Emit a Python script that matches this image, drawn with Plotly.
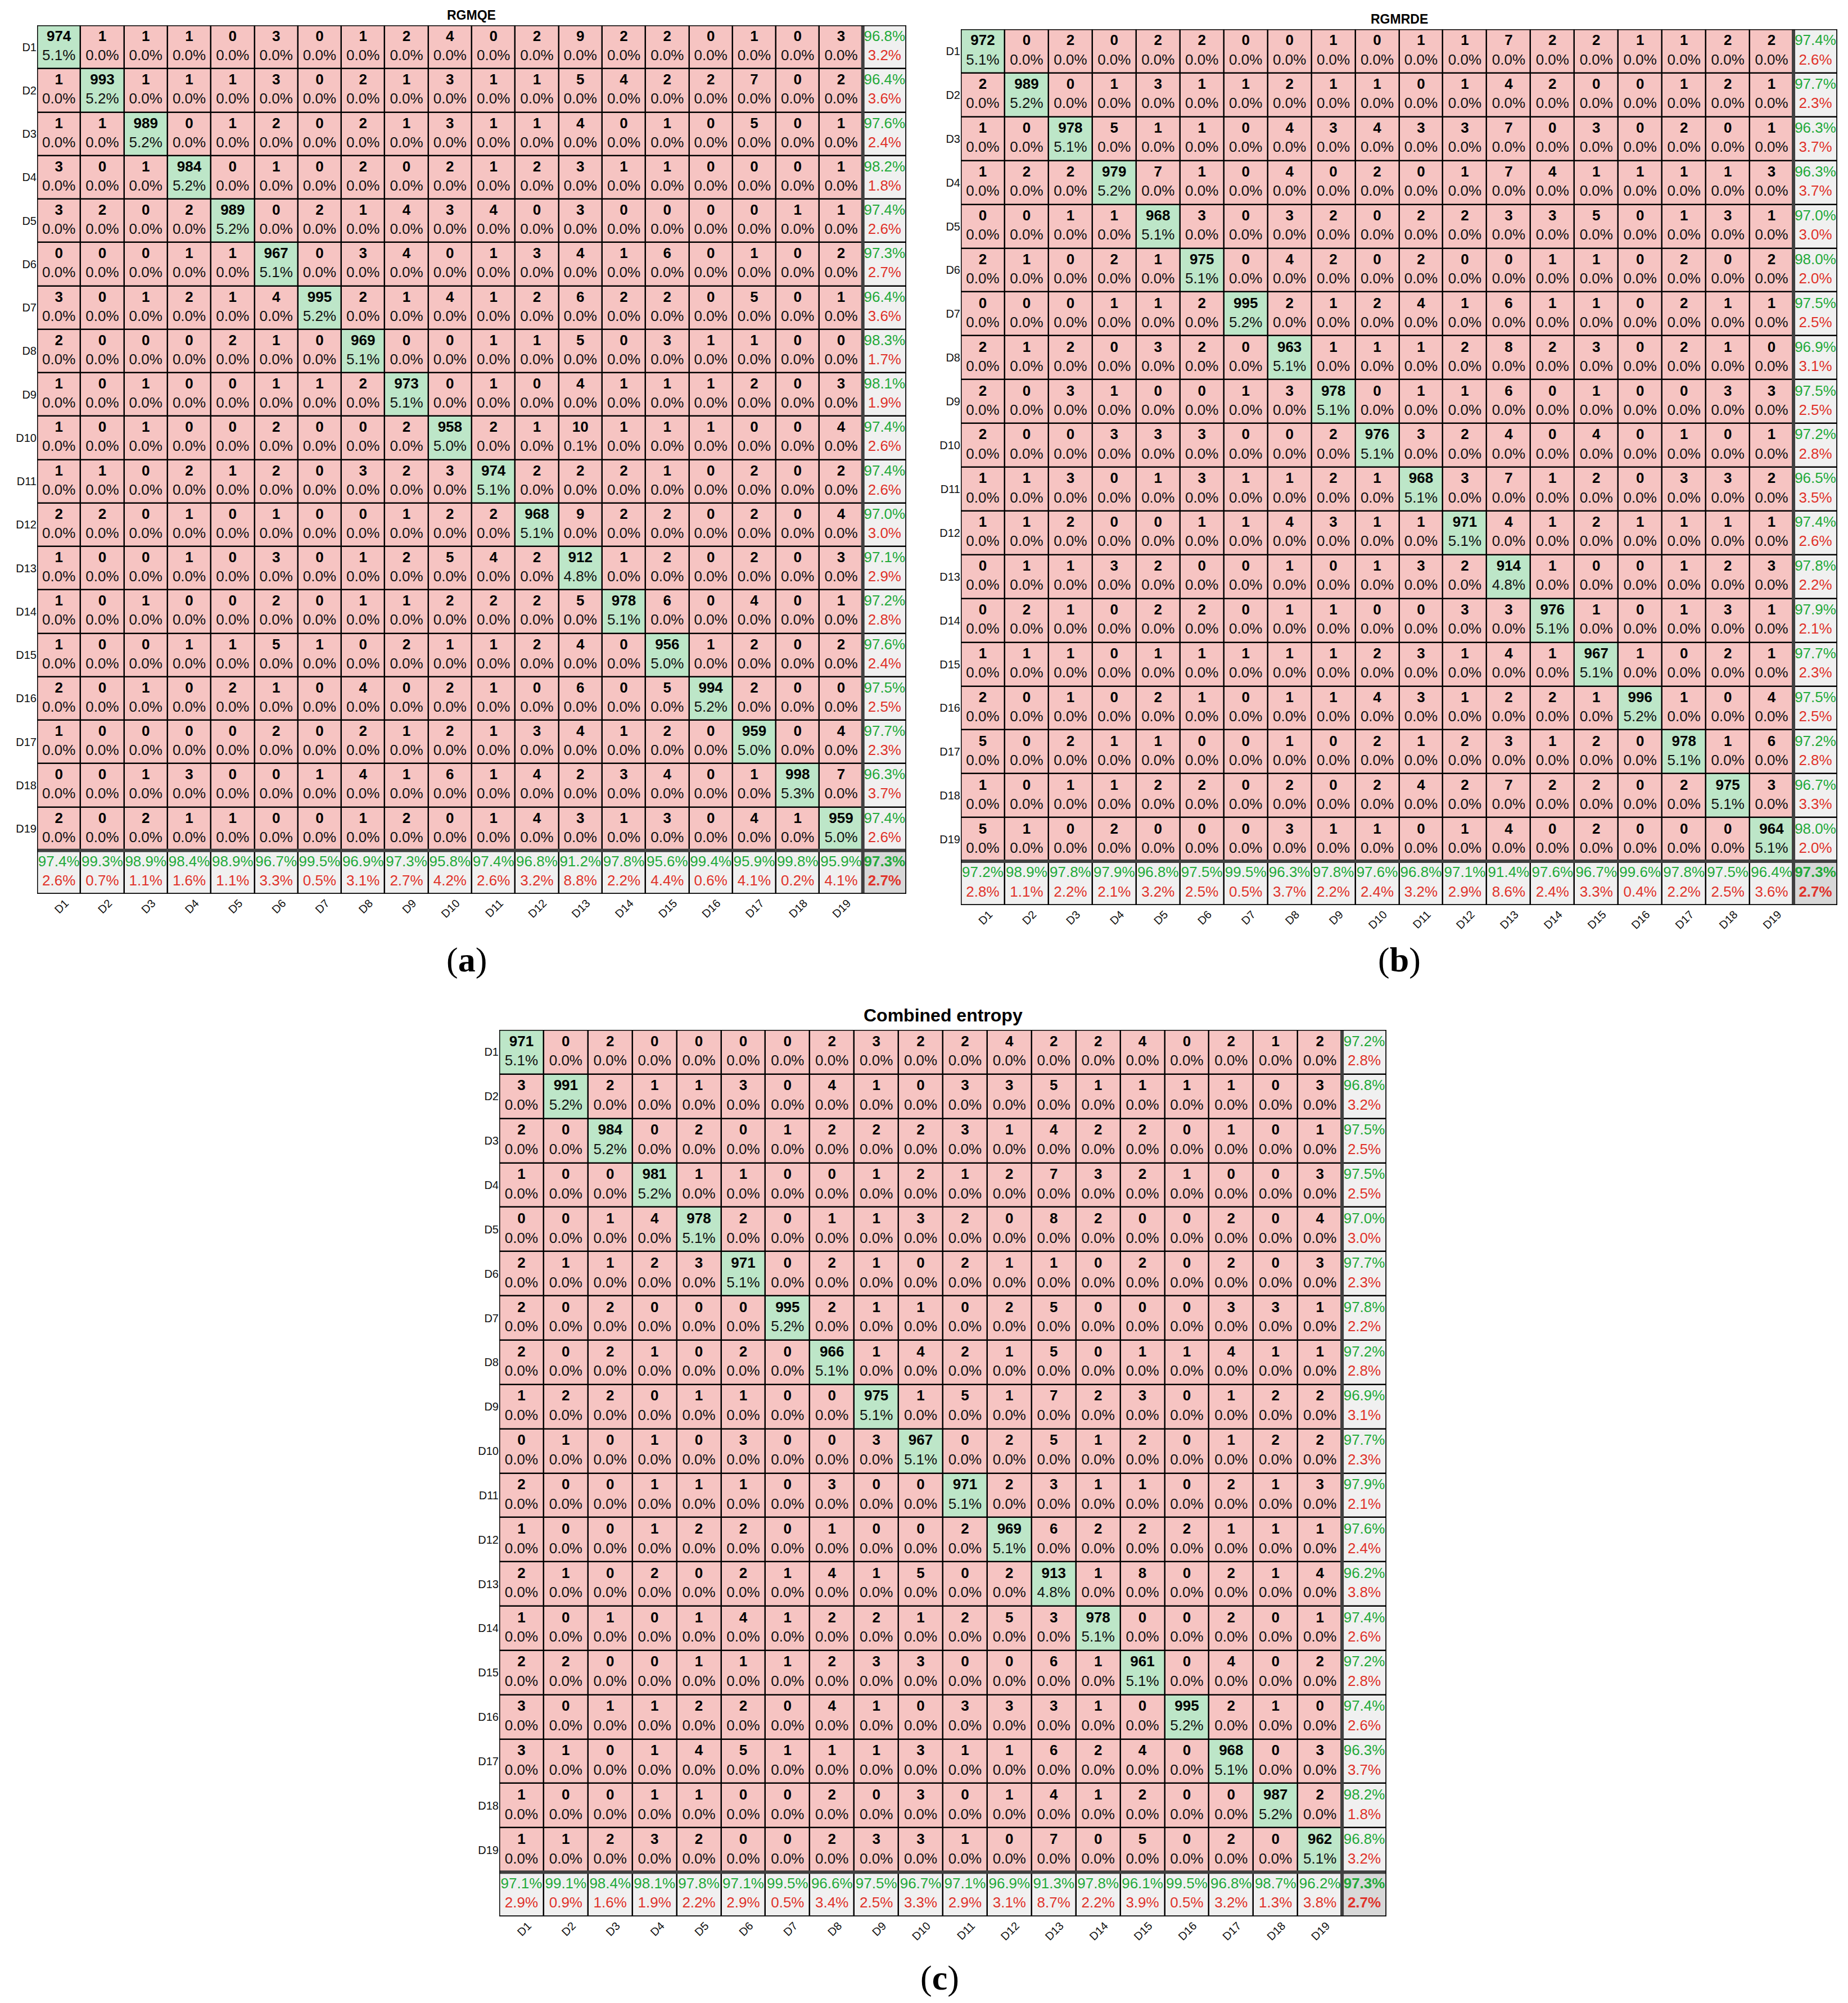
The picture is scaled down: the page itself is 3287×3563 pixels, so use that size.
import plotly.graph_objects as go

CLASSES = [f"D{i}" for i in range(1, 20)]

TITLE_A = "RGMQE"
TITLE_B = "RGMRDE"
TITLE_C = "Combined entropy"

# rows = output class, columns = target class (as printed in the figure)
RGMQE_COUNTS = [
    [974, 1, 1, 1, 0, 3, 0, 1, 2, 4, 0, 2, 9, 2, 2, 0, 1, 0, 3],
    [1, 993, 1, 1, 1, 3, 0, 2, 1, 3, 1, 1, 5, 4, 2, 2, 7, 0, 2],
    [1, 1, 989, 0, 1, 2, 0, 2, 1, 3, 1, 1, 4, 0, 1, 0, 5, 0, 1],
    [3, 0, 1, 984, 0, 1, 0, 2, 0, 2, 1, 2, 3, 1, 1, 0, 0, 0, 1],
    [3, 2, 0, 2, 989, 0, 2, 1, 4, 3, 4, 0, 3, 0, 0, 0, 0, 1, 1],
    [0, 0, 0, 1, 1, 967, 0, 3, 4, 0, 1, 3, 4, 1, 6, 0, 1, 0, 2],
    [3, 0, 1, 2, 1, 4, 995, 2, 1, 4, 1, 2, 6, 2, 2, 0, 5, 0, 1],
    [2, 0, 0, 0, 2, 1, 0, 969, 0, 0, 1, 1, 5, 0, 3, 1, 1, 0, 0],
    [1, 0, 1, 0, 0, 1, 1, 2, 973, 0, 1, 0, 4, 1, 1, 1, 2, 0, 3],
    [1, 0, 1, 0, 0, 2, 0, 0, 2, 958, 2, 1, 10, 1, 1, 1, 0, 0, 4],
    [1, 1, 0, 2, 1, 2, 0, 3, 2, 3, 974, 2, 2, 2, 1, 0, 2, 0, 2],
    [2, 2, 0, 1, 0, 1, 0, 0, 1, 2, 2, 968, 9, 2, 2, 0, 2, 0, 4],
    [1, 0, 0, 1, 0, 3, 0, 1, 2, 5, 4, 2, 912, 1, 2, 0, 2, 0, 3],
    [1, 0, 1, 0, 0, 2, 0, 1, 1, 2, 2, 2, 5, 978, 6, 0, 4, 0, 1],
    [1, 0, 0, 1, 1, 5, 1, 0, 2, 1, 1, 2, 4, 0, 956, 1, 2, 0, 2],
    [2, 0, 1, 0, 2, 1, 0, 4, 0, 2, 1, 0, 6, 0, 5, 994, 2, 0, 0],
    [1, 0, 0, 0, 0, 2, 0, 2, 1, 2, 1, 3, 4, 1, 2, 0, 959, 0, 4],
    [0, 0, 1, 3, 0, 0, 1, 4, 1, 6, 1, 4, 2, 3, 4, 0, 1, 998, 7],
    [2, 0, 2, 1, 1, 0, 0, 1, 2, 0, 1, 4, 3, 1, 3, 0, 4, 1, 959],
]

RGMRDE_COUNTS = [
    [972, 0, 2, 0, 2, 2, 0, 0, 1, 0, 1, 1, 7, 2, 2, 1, 1, 2, 2],
    [2, 989, 0, 1, 3, 1, 1, 2, 1, 1, 0, 1, 4, 2, 0, 0, 1, 2, 1],
    [1, 0, 978, 5, 1, 1, 0, 4, 3, 4, 3, 3, 7, 0, 3, 0, 2, 0, 1],
    [1, 2, 2, 979, 7, 1, 0, 4, 0, 2, 0, 1, 7, 4, 1, 1, 1, 1, 3],
    [0, 0, 1, 1, 968, 3, 0, 3, 2, 0, 2, 2, 3, 3, 5, 0, 1, 3, 1],
    [2, 1, 0, 2, 1, 975, 0, 4, 2, 0, 2, 0, 0, 1, 1, 0, 2, 0, 2],
    [0, 0, 0, 1, 1, 2, 995, 2, 1, 2, 4, 1, 6, 1, 1, 0, 2, 1, 1],
    [2, 1, 2, 0, 3, 2, 0, 963, 1, 1, 1, 2, 8, 2, 3, 0, 2, 1, 0],
    [2, 0, 3, 1, 0, 0, 1, 3, 978, 0, 1, 1, 6, 0, 1, 0, 0, 3, 3],
    [2, 0, 0, 3, 3, 3, 0, 0, 2, 976, 3, 2, 4, 0, 4, 0, 1, 0, 1],
    [1, 1, 3, 0, 1, 3, 1, 1, 2, 1, 968, 3, 7, 1, 2, 0, 3, 3, 2],
    [1, 1, 2, 0, 0, 1, 1, 4, 3, 1, 1, 971, 4, 1, 2, 1, 1, 1, 1],
    [0, 1, 1, 3, 2, 0, 0, 1, 0, 1, 3, 2, 914, 1, 0, 0, 1, 2, 3],
    [0, 2, 1, 0, 2, 2, 0, 1, 1, 0, 0, 3, 3, 976, 1, 0, 1, 3, 1],
    [1, 1, 1, 0, 1, 1, 1, 1, 1, 2, 3, 1, 4, 1, 967, 1, 0, 2, 1],
    [2, 0, 1, 0, 2, 1, 0, 1, 1, 4, 3, 1, 2, 2, 1, 996, 1, 0, 4],
    [5, 0, 2, 1, 1, 0, 0, 1, 0, 2, 1, 2, 3, 1, 2, 0, 978, 1, 6],
    [1, 0, 1, 1, 2, 2, 0, 2, 0, 2, 4, 2, 7, 2, 2, 0, 2, 975, 3],
    [5, 1, 0, 2, 0, 0, 0, 3, 1, 1, 0, 1, 4, 0, 2, 0, 0, 0, 964],
]

COMBINED_COUNTS = [
    [971, 0, 2, 0, 0, 0, 0, 2, 3, 2, 2, 4, 2, 2, 4, 0, 2, 1, 2],
    [3, 991, 2, 1, 1, 3, 0, 4, 1, 0, 3, 3, 5, 1, 1, 1, 1, 0, 3],
    [2, 0, 984, 0, 2, 0, 1, 2, 2, 2, 3, 1, 4, 2, 2, 0, 1, 0, 1],
    [1, 0, 0, 981, 1, 1, 0, 0, 1, 2, 1, 2, 7, 3, 2, 1, 0, 0, 3],
    [0, 0, 1, 4, 978, 2, 0, 1, 1, 3, 2, 0, 8, 2, 0, 0, 2, 0, 4],
    [2, 1, 1, 2, 3, 971, 0, 2, 1, 0, 2, 1, 1, 0, 2, 0, 2, 0, 3],
    [2, 0, 2, 0, 0, 0, 995, 2, 1, 1, 0, 2, 5, 0, 0, 0, 3, 3, 1],
    [2, 0, 2, 1, 0, 2, 0, 966, 1, 4, 2, 1, 5, 0, 1, 1, 4, 1, 1],
    [1, 2, 2, 0, 1, 1, 0, 0, 975, 1, 5, 1, 7, 2, 3, 0, 1, 2, 2],
    [0, 1, 0, 1, 0, 3, 0, 0, 3, 967, 0, 2, 5, 1, 2, 0, 1, 2, 2],
    [2, 0, 0, 1, 1, 1, 0, 3, 0, 0, 971, 2, 3, 1, 1, 0, 2, 1, 3],
    [1, 0, 0, 1, 2, 2, 0, 1, 0, 0, 2, 969, 6, 2, 2, 2, 1, 1, 1],
    [2, 1, 0, 2, 0, 2, 1, 4, 1, 5, 0, 2, 913, 1, 8, 0, 2, 1, 4],
    [1, 0, 1, 0, 1, 4, 1, 2, 2, 1, 2, 5, 3, 978, 0, 0, 2, 0, 1],
    [2, 2, 0, 0, 1, 1, 1, 2, 3, 3, 0, 0, 6, 1, 961, 0, 4, 0, 2],
    [3, 0, 1, 1, 2, 2, 0, 4, 1, 0, 3, 3, 3, 1, 0, 995, 2, 1, 0],
    [3, 1, 0, 1, 4, 5, 1, 1, 1, 3, 1, 1, 6, 2, 4, 0, 968, 0, 3],
    [1, 0, 0, 1, 1, 0, 0, 2, 0, 3, 0, 1, 4, 1, 2, 0, 0, 987, 2],
    [1, 1, 2, 3, 2, 0, 0, 2, 3, 3, 1, 0, 7, 0, 5, 0, 2, 0, 962],
]

# ---------------- styling ----------------
W, H = 3287, 3563
PINK = "#F6C4C2"
GREEN = "#BDE6C8"
GRAY = "#F0F0F0"
DGRAY = "#D8D8D8"
TXT_GREEN = "#22AA3A"
TXT_RED = "#E0322A"
FONT = "Liberation Sans, Arial, sans-serif"
FS = 26

# pixel boxes (left, top, right, bottom) of each matrix
PANELS = [
    (TITLE_A, RGMQE_COUNTS, (58, 37, 1604, 1582), 23, "a", (822, 1699)),
    (TITLE_B, RGMRDE_COUNTS, (1701, 44, 3260, 1602), 23, "b", (2481, 1699)),
    (TITLE_C, COMBINED_COUNTS, (880, 1824, 2458, 3401), 32, "c", (1663, 3510)),
]


def pct(v):
    return f"{v:.1f}%"


fig = go.Figure()
layout = dict(
    width=W, height=H, margin=dict(l=0, r=0, t=0, b=0),
    paper_bgcolor="white", plot_bgcolor="black", showlegend=False,
    annotations=[], shapes=[],
)

n = len(CLASSES)
OFF = 0.22
for k, (title, counts, box, tsize, letter, lab_xy) in enumerate(PANELS):
    sfx = "" if k == 0 else str(k + 1)
    xa, ya = "x" + sfx, "y" + sfx
    l, t, r, b = box
    layout["xaxis" + sfx] = dict(
        domain=[l / W, r / W], range=[-0.5, n + 0.5], anchor=ya,
        tickvals=[i + 0.15 for i in range(n)], ticktext=CLASSES, tickangle=-45,
        tickfont=dict(family=FONT, size=20, color="#111"), ticks="",
        showgrid=False, zeroline=False, showline=False, fixedrange=True,
    )
    layout["yaxis" + sfx] = dict(
        domain=[1 - b / H, 1 - t / H], range=[n + 0.5, -0.5], anchor=xa,
        tickvals=list(range(n)), ticktext=CLASSES,
        tickfont=dict(family=FONT, size=20, color="#111"), ticks="",
        showgrid=False, zeroline=False, showline=False, fixedrange=True,
    )

    total = sum(sum(row) for row in counts)
    rowsum = [sum(row) for row in counts]
    colsum = [sum(counts[i][j] for i in range(n)) for j in range(n)]
    trace_sum = sum(counts[i][i] for i in range(n))

    # cell colour categories
    z = []
    for i in range(n + 1):
        zr = []
        for j in range(n + 1):
            if i == n and j == n:
                zr.append(3)
            elif i == n or j == n:
                zr.append(2)
            elif i == j:
                zr.append(1)
            else:
                zr.append(0)
        z.append(zr)
    fig.add_trace(go.Heatmap(
        z=z, x=list(range(n + 1)), y=list(range(n + 1)), zmin=0, zmax=3,
        colorscale=[[0, PINK], [1 / 6, PINK], [1 / 6, GREEN], [0.5, GREEN],
                    [0.5, GRAY], [5 / 6, GRAY], [5 / 6, DGRAY], [1, DGRAY]],
        showscale=False, xgap=2.5, ygap=2.5, hoverinfo="skip",
        xaxis=xa, yaxis=ya,
    ))

    cx, cy, ct, px, py, pt = [], [], [], [], [], []
    for i in range(n):
        for j in range(n):
            cx.append(j); cy.append(i - OFF); ct.append(str(counts[i][j]))
            px.append(j); py.append(i + OFF); pt.append(pct(counts[i][j] / total * 100))
    fig.add_trace(go.Scatter(
        x=cx, y=cy, text=ct, mode="text", textposition="middle center",
        textfont=dict(family=FONT, size=FS, color="#000", weight="bold"),
        hoverinfo="skip", xaxis=xa, yaxis=ya))
    fig.add_trace(go.Scatter(
        x=px, y=py, text=pt, mode="text", textposition="middle center",
        textfont=dict(family=FONT, size=FS, color="#111"),
        hoverinfo="skip", xaxis=xa, yaxis=ya))

    # summary column / row
    gx, gy, gt, rx, ry, rt = [], [], [], [], [], []
    for i in range(n):
        acc = counts[i][i] / rowsum[i] * 100
        gx.append(n); gy.append(i - OFF); gt.append(pct(acc))
        rx.append(n); ry.append(i + OFF); rt.append(pct(100 - acc))
    for j in range(n):
        acc = counts[j][j] / colsum[j] * 100
        gx.append(j); gy.append(n - OFF); gt.append(pct(acc))
        rx.append(j); ry.append(n + OFF); rt.append(pct(100 - acc))
    fig.add_trace(go.Scatter(
        x=gx, y=gy, text=gt, mode="text", textposition="middle center",
        textfont=dict(family=FONT, size=FS, color=TXT_GREEN),
        hoverinfo="skip", xaxis=xa, yaxis=ya))
    fig.add_trace(go.Scatter(
        x=rx, y=ry, text=rt, mode="text", textposition="middle center",
        textfont=dict(family=FONT, size=FS, color=TXT_RED),
        hoverinfo="skip", xaxis=xa, yaxis=ya))
    ov = trace_sum / total * 100
    fig.add_trace(go.Scatter(
        x=[n, n], y=[n - OFF, n + OFF], text=[pct(ov), pct(100 - ov)],
        mode="text", textposition="middle center",
        textfont=dict(family=FONT, size=FS, color=[TXT_GREEN, TXT_RED], weight="bold"),
        hoverinfo="skip", xaxis=xa, yaxis=ya))

    # separators and border
    layout["shapes"] += [
        dict(type="line", xref=xa, yref=ya, x0=n - 0.5, x1=n - 0.5, y0=-0.5, y1=n + 0.5,
             line=dict(color="#404040", width=6)),
        dict(type="line", xref=xa, yref=ya, x0=-0.5, x1=n + 0.5, y0=n - 0.5, y1=n - 0.5,
             line=dict(color="#404040", width=6)),
        dict(type="rect", xref=xa, yref=ya, x0=-0.5, x1=n + 0.5, y0=-0.5, y1=n + 0.5,
             line=dict(color="black", width=3)),
    ]

    # title
    layout["annotations"].append(dict(
        text=f"<b>{title}</b>", x=(l + r) / 2 / W, y=1 - (t - (tsize * 0.8)) / H,
        xref="paper", yref="paper", xanchor="center", yanchor="middle",
        showarrow=False, font=dict(family=FONT, size=tsize, color="black")))
    # panel letter
    layout["annotations"].append(dict(
        text=f"(<b>{letter}</b>)", x=lab_xy[0] / W, y=1 - lab_xy[1] / H,
        xref="paper", yref="paper", xanchor="center", yanchor="middle",
        showarrow=False, font=dict(family="Liberation Serif, Times New Roman, serif",
                                   size=62, color="black")))

fig.update_layout(**layout)
fig.write_html("out.html")
